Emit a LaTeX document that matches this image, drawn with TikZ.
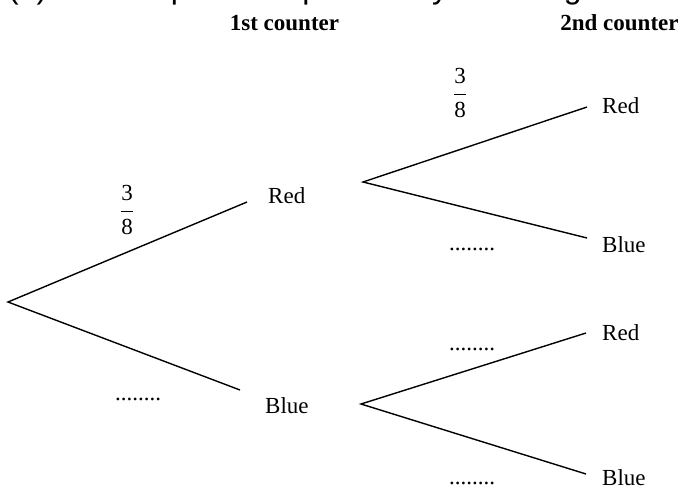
\documentclass[tikz,border=0pt]{standalone}
\usepackage{amsmath}
\usepackage{fontspec}
\setmainfont{Liberation Serif}
\newfontfamily\arialfont{Liberation Sans}
\begin{document}
\begin{tikzpicture}[x=1pt,y=-1pt,
  lbl/.style={inner sep=0pt, anchor=base west, font=\fontsize{23}{27}\selectfont},
  hdr/.style={inner sep=0pt, anchor=base, font=\fontsize{23}{27}\selectfont\bfseries},
  fracl/.style={inner sep=0pt, anchor=center, font=\fontsize{23}{27}\selectfont},
  qtext/.style={inner sep=0pt, anchor=base west, font=\arialfont\fontsize{32}{38}\selectfont},
  branch/.style={line width=1.4pt}]
\useasboundingbox (0,0) rectangle (684,488);
\clip (0,0) rectangle (684,488);
% cut-off question line
\node[qtext] (qn) at (8,-1.5) {(b)};
\node[qtext] (qt) at (103,-1.5) {Complete the probability tree diagram.};
% headers
\node[hdr] (h1) at (284.5,30) {1st counter};
\node[hdr] (h2) at (619.5,30) {2nd counter};
% branch points
\coordinate (root) at (8,302);
\coordinate (a1) at (247,202);
\coordinate (a2) at (240,390);
\coordinate (v1) at (363,182);
\coordinate (e11) at (587,107);
\coordinate (e12) at (587,238);
\coordinate (v2) at (361,404);
\coordinate (e21) at (586,333);
\coordinate (e22) at (586,474);
% branches
\draw[branch] (a1) -- (root) -- (a2);
\draw[branch] (e11) -- (v1) -- (e12);
\draw[branch] (e21) -- (v2) -- (e22);
% outcome labels
\node[lbl] (red1) at (268,203) {Red};
\node[lbl] (blue1) at (265,413) {Blue};
\node[lbl] (red11) at (602,113) {Red};
\node[lbl] (blue12) at (602,252) {Blue};
\node[lbl] (red21) at (602,340) {Red};
\node[lbl] (blue22) at (602,485) {Blue};
% probabilities
\node[fracl] (p1) at (127,210) {$\dfrac{\text{3}}{\text{8}}$};
\node[fracl] (p11) at (460,93) {$\dfrac{\text{3}}{\text{8}}$};
\node[lbl] (d1) at (115,400) {........};
\node[lbl] (d12) at (449,250) {........};
\node[lbl] (d21) at (449,350) {........};
\node[lbl] (d22) at (449,484) {........};
\end{tikzpicture}
\end{document}
